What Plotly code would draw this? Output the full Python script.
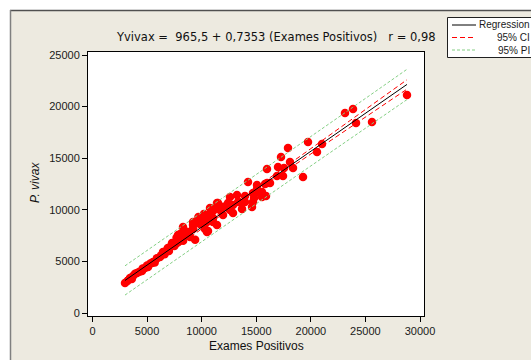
import numpy as np
import plotly.graph_objects as go

# ---- data ----
exames_positivos = [
    2977, 3435, 3710, 4076, 4534, 4809, 5084, 5450, 5542, 6183, 6458, 6824, 7115, 7374, 7740, 7282,
    7832, 8473, 8748, 8931, 9206, 9389, 10030, 10488, 10488, 11038,
    3200, 3600, 3900, 4300, 4600, 5000, 5300, 5700, 5900, 6300, 6600, 6900, 7000, 7500, 7900, 8100, 8300,
    8290, 8473, 8656, 9206, 9206, 9847, 10122, 10305, 10580, 9400,
    10580, 11038, 11038, 11404, 11496, 11679, 11954, 12595, 12595, 12870, 12870, 13237, 13695, 13695,
    13969, 14244, 14610, 14793, 15068, 15068, 15526, 15526, 15893, 15984, 15984, 16259,
    13328, 13969, 14702, 12412, 11404, 11496, 10763, 15801, 15068, 14702,
    9700, 10200, 10900, 11200, 12000, 7700, 8100,
    16900, 17450, 16992, 17267, 17542, 17908, 18092, 18366, 19282, 19740, 20564, 21022,
    23129, 23862, 24137, 25603, 28808,
]
p_vivax = [
    2907, 3392, 3585, 3876, 4070, 4361, 4457, 4845, 4942, 5426, 5911, 6105, 6395, 6589, 6783, 6783,
    7558, 7655, 7849, 7364, 8527, 8721, 8624, 7849, 8818, 8818,
    3100, 3300, 3800, 4000, 4300, 4600, 4800, 4900, 5300, 5600, 5700, 6300, 6000, 6500, 6900, 7200, 7000,
    8333, 7461, 7849, 8818, 8140, 8624, 9012, 8140, 7946, 7100,
    9496, 9884, 9206, 8527, 10659, 9981, 9496, 11240, 9981, 10465, 9690, 11434, 10659, 10078,
    11337, 12694, 10271, 11144, 12403, 11725, 11725, 11240, 11337, 12597, 13954, 12597,
    10756, 10756, 10756, 10659, 10659, 10175, 10175, 12500, 12016, 11628,
    9300, 9600, 9300, 10200, 10300, 7300, 7700,
    13275, 13275, 14147, 15116, 14051, 15989, 14632, 14051, 13178, 16570, 15601, 16376,
    19380, 19768, 18411, 18508, 21124,
]
intercept = 965.5
slope = 0.7353
title_text = "Yvivax =  965,5 + 0,7353 (Exames Positivos)   r = 0,98"
legend_labels = ["Regression", "95% CI", "95% PI"]
x_ticks = [0, 5000, 10000, 15000, 20000, 25000, 30000]
y_ticks = [0, 5000, 10000, 15000, 20000, 25000]

# ---- regression bands derived from the data ----
x = np.array(exames_positivos, dtype=float)
y = np.array(p_vivax, dtype=float)
n = len(x)
resid = y - (intercept + slope * x)
s = np.sqrt(np.sum(resid ** 2) / (n - 2))
xbar = x.mean()
sxx = np.sum((x - xbar) ** 2)
tval = 1.98
xg = np.linspace(x.min(), x.max(), 120)
fit = intercept + slope * xg
se_fit = s * np.sqrt(1 / n + (xg - xbar) ** 2 / sxx)
se_pred = s * np.sqrt(1 + 1 / n + (xg - xbar) ** 2 / sxx)

RED = "#FF0000"
GREEN = "#84CF84"
BEIGE = "rgb(237,234,224)"
FONT = "Liberation Sans, Arial, sans-serif"
TFONT = "DejaVu Sans, Verdana, sans-serif"

fig = go.Figure()
fig.add_trace(go.Scatter(x=x, y=y, mode="markers",
                         marker=dict(color=RED, size=8.5, line=dict(width=0)),
                         showlegend=False, hoverinfo="x+y"))
for band in (fit + tval * se_pred, fit - tval * se_pred):
    fig.add_trace(go.Scatter(x=xg, y=band, mode="lines",
                             line=dict(color=GREEN, width=1, dash="3px,2px"), showlegend=False))
for band in (fit + tval * se_fit, fit - tval * se_fit):
    fig.add_trace(go.Scatter(x=xg, y=band, mode="lines",
                             line=dict(color=RED, width=1, dash="5px,3px"), showlegend=False))
fig.add_trace(go.Scatter(x=xg, y=fit, mode="lines",
                         line=dict(color="black", width=1), showlegend=False))

W, H = 531, 360
L, R, T, B = 88, 424, 52, 316
pw, ph = R - L, B - T


def px(xp):
    return (xp - L) / pw


def py(yp):
    return (B - yp) / ph


shapes = [
    # white strips at top and left of the frame
    dict(type="rect", xref="paper", yref="paper", x0=px(-5), x1=px(W + 5), y0=py(10), y1=py(-5),
         fillcolor="white", line=dict(width=0)),
    dict(type="rect", xref="paper", yref="paper", x0=px(-5), x1=px(10), y0=py(H + 5), y1=py(-5),
         fillcolor="white", line=dict(width=0)),
    dict(type="line", xref="paper", yref="paper", x0=px(10), x1=px(W + 5), y0=py(10.5), y1=py(10.5),
         line=dict(color="#505050", width=1.5)),
    dict(type="line", xref="paper", yref="paper", x0=px(10.5), x1=px(10.5), y0=py(10), y1=py(H + 5),
         line=dict(color="#808080", width=1.5)),
    # legend box
    dict(type="rect", xref="paper", yref="paper", x0=px(447.5), x1=px(W + 20), y0=py(57.5), y1=py(17.5),
         fillcolor="white", line=dict(color="#202020", width=1)),
]
rows = [25, 37.5, 50]
styles = [dict(color="black", width=1), dict(color=RED, width=1, dash="5px,3px"),
          dict(color=GREEN, width=1, dash="3px,2px")]
annotations = []
for lab, yr, st in zip(legend_labels, rows, styles):
    shapes.append(dict(type="line", xref="paper", yref="paper", x0=px(452), x1=px(476),
                       y0=py(yr), y1=py(yr), line=st))
    annotations.append(dict(text=lab, xref="paper", yref="paper", x=px(532), y=py(yr),
                            xanchor="right", yanchor="middle", showarrow=False,
                            font=dict(family=FONT, size=10, color="#1a1a1a")))

annotations += [
    dict(text=title_text, xref="paper", yref="paper", x=px(275.5), y=py(37),
         xanchor="center", yanchor="middle", showarrow=False,
         font=dict(family=TFONT, size=11.5, color="#111")),
    dict(text="Exames Positivos", xref="paper", yref="paper", x=px(256), y=py(346),
         xanchor="center", yanchor="middle", showarrow=False,
         font=dict(family=FONT, size=12, color="#111")),
    dict(text="<i>P. vivax</i>", xref="paper", yref="paper", x=px(35), y=py(183),
         xanchor="center", yanchor="middle", showarrow=False, textangle=-90,
         font=dict(family=FONT, size=12, color="#111")),
]

axis_common = dict(showgrid=False, zeroline=False, showline=True, linecolor="black", linewidth=1,
                   mirror=True, ticks="outside", ticklen=5, tickcolor="black", tickwidth=1,
                   tickfont=dict(family=FONT, size=11, color="#1a1a1a"))

fig.update_layout(
    width=W, height=H,
    margin=dict(l=L, r=W - R, t=T, b=H - B, pad=0),
    paper_bgcolor=BEIGE, plot_bgcolor="white",
    showlegend=False,
    xaxis=dict(range=[-412, 30366], tickvals=x_ticks, ticktext=[str(v) for v in x_ticks], **axis_common),
    yaxis=dict(range=[-291, 25291], tickvals=y_ticks, ticktext=[str(v) for v in y_ticks], **axis_common),
    shapes=shapes, annotations=annotations,
)

fig.write_html("out.html", config={"displayModeBar": False},
               post_script="document.body.style.margin='0';document.body.style.overflow='hidden';")
